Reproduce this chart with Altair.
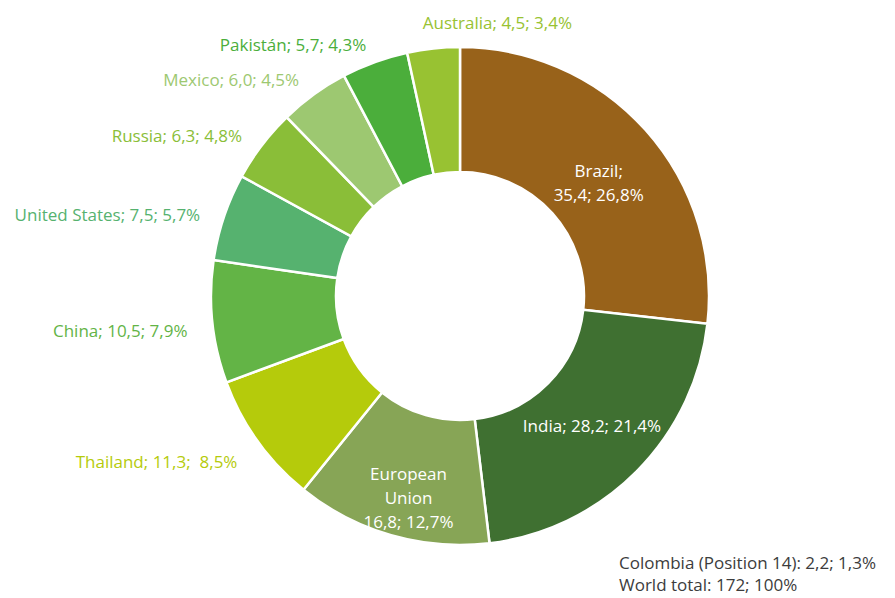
import altair as alt
import pandas as pd

countries = ["Brazil", "India", "European Union", "Thailand", "China",
             "United States", "Russia", "Mexico", "Pakistán", "Australia"]
values = [35.4, 28.2, 16.8, 11.3, 10.5, 7.5, 6.3, 6.0, 5.7, 4.5]
labels = ["Brazil;\n35,4; 26,8%", "India; 28,2; 21,4%", "European\nUnion\n16,8; 12,7%",
          "Thailand; 11,3;\u00a0 8,5%", "China; 10,5; 7,9%", "United States; 7,5; 5,7%",
          "Russia; 6,3; 4,8%", "Mexico; 6,0; 4,5%", "Pakistán; 5,7; 4,3%",
          "Australia; 4,5; 3,4%"]
notes = ["Colombia (Position 14): 2,2; 1,3%", "World total: 172; 100%"]

colors = ["#98621A", "#3F7031", "#87A556", "#B5CB0B", "#63B446",
          "#56B26F", "#8ABE38", "#9DC871", "#4BAE3B", "#98C232"]

FONT = "Open Sans"
FS = 17

df = pd.DataFrame({"country": countries, "value": values, "label": labels})
total = float(df["value"].sum())
df["end"] = df["value"].cumsum()
df["start"] = df["end"] - df["value"]
df["mid"] = (df["start"] + df["end"]) / 2
df["kind"] = "right"
df.loc[df["value"] >= 15, "kind"] = "inside"
df.loc[(df["kind"] != "inside") & (df["mid"] / total > 0.97), "kind"] = "left"

theta_scale = alt.Scale(domain=[0, total])
color_scale = alt.Scale(domain=countries, range=colors)
cx = alt.value(460)
cy = alt.value(296)

base = alt.Chart(df)

arcs = base.mark_arc(innerRadius=124, outerRadius=249, stroke="white", strokeWidth=2.5).encode(
    theta=alt.Theta("start:Q", scale=theta_scale, stack=None),
    theta2="end:Q",
    color=alt.Color("country:N", scale=color_scale, legend=None),
    x=cx, y=cy,
)

inside = base.transform_filter(alt.datum.kind == "inside").mark_text(
    radius=186, color="white", fontSize=FS, font=FONT, lineBreak="\n",
    lineHeight=24, align="center", baseline="middle"
).encode(
    theta=alt.Theta("mid:Q", scale=theta_scale, stack=None),
    text="label:N", x=cx, y=cy,
)

outer_right = base.transform_filter(alt.datum.kind == "right").mark_text(
    radius=274, fontSize=FS, font=FONT, align="right", baseline="middle", dy=7
).encode(
    theta=alt.Theta("mid:Q", scale=theta_scale, stack=None),
    text="label:N",
    color=alt.Color("country:N", scale=color_scale, legend=None),
    x=cx, y=cy,
)

outer_left = base.transform_filter(alt.datum.kind == "left").mark_text(
    radius=274, fontSize=FS, font=FONT, align="left", baseline="middle", dx=-8
).encode(
    theta=alt.Theta("mid:Q", scale=theta_scale, stack=None),
    text="label:N",
    color=alt.Color("country:N", scale=color_scale, legend=None),
    x=cx, y=cy,
)

foot = alt.Chart(pd.DataFrame({"note": ["\n".join(notes)]})).mark_text(
    fontSize=FS, font=FONT, color="#3C3C3C", align="left", baseline="middle",
    lineBreak="\n", lineHeight=22
).encode(text="note:N", x=alt.value(619), y=alt.value(564))

chart = alt.layer(arcs, inside, outer_right, outer_left, foot).properties(
    width=895, height=598, padding=0,
    autosize=alt.AutoSizeParams(type="none"),
    background="white",
).configure_view(stroke=None)

chart.save("out.html", embed_options={"renderer": "svg", "actions": False})
